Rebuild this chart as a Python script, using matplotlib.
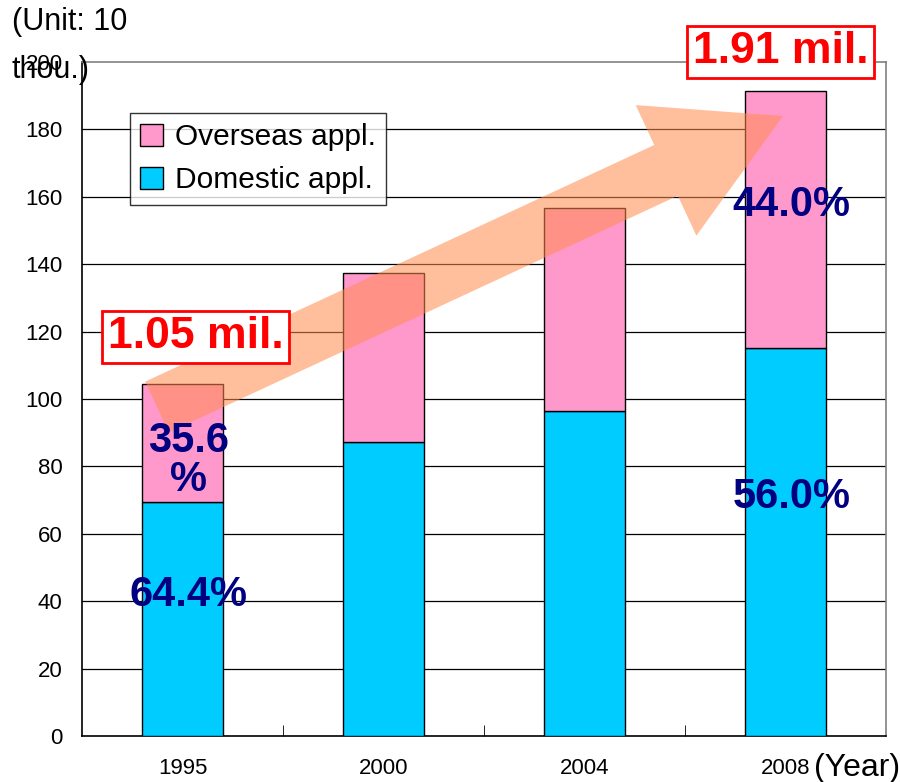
import matplotlib
matplotlib.use("Agg")
import matplotlib.pyplot as plt
import numpy as np
from matplotlib.patches import Polygon

plt.rcParams['font.family'] = ['Liberation Sans', 'DejaVu Sans']

years = ['1995', '2000', '2004', '2008']
domestic = [69.5, 87.2, 96.4, 115.1]
overseas = [35.0, 50.2, 60.3, 76.3]
dom_pct = ['64.4%', None, None, '56.0%']
ovs_pct = ['35.6\n%', None, None, '44.0%']
totals_lbl = {0: '1.05 mil.', 3: '1.91 mil.'}
yticks = list(range(0, 201, 20))

W, H = 900, 782
fig = plt.figure(figsize=(W / 100, H / 100), dpi=100)
ax = fig.add_axes([82 / W, 1 - 736 / H, (886 - 82) / W, (736 - 62) / H])

x = np.arange(len(years))
ax.bar(x, domestic, width=0.4, color='#00CCFF', edgecolor='black', linewidth=1, zorder=3, label='Domestic appl.')
ax.bar(x, overseas, width=0.4, bottom=domestic, color='#FF99CC', edgecolor='black', linewidth=1, zorder=3, label='Overseas appl.')

ax.set_yticks(yticks)
ax.set_yticklabels([str(v) for v in yticks], fontsize=16)
ax.tick_params(axis='y', length=0, pad=14)
ax.set_xticks(x)
ax.set_xticklabels(years, fontsize=16)
ax.tick_params(axis='x', length=0, pad=16)
ax.set_xticks(np.arange(len(years) - 1) + 0.5, minor=True)
ax.tick_params(axis='x', which='minor', direction='in', length=8, color='black')

for v in yticks[1:-1]:
    ax.axhline(v, color='black', linewidth=0.9, zorder=1)
ax.spines['top'].set_color('#808080')
ax.spines['right'].set_color('#808080')
ax.spines['left'].set_color('black')
ax.spines['bottom'].set_color('black')
for s in ax.spines.values():
    s.set_linewidth(1.2)

# arrow (decoration) built in pixel space -> figure fraction
T = np.array([157.0, 407.0])
P = np.array([783.0, 116.0])
d = P - T
u = d / np.hypot(*d)
n = np.array([-u[1], u[0]])
hw_s, hw_h, hl = 28, 72, 129
B = P - hl * u
pts = [T + hw_s * n, B + hw_s * n, B + hw_h * n, P, B - hw_h * n, B - hw_s * n, T - hw_s * n]
pts_fig = [(p[0] / W, 1 - p[1] / H) for p in pts]
arrow = Polygon(pts_fig, closed=True, transform=fig.transFigure,
                facecolor='#FF8C4D', edgecolor='none', alpha=0.55, zorder=5, clip_on=False)
ax.add_patch(arrow)

ax.set_xlim(-0.5, len(years) - 0.5)
ax.set_ylim(0, 200)

navy = '#000080'
dom_y = {0: 41.8, 3: 70.9}
ovs_y = {0: 81.8, 3: 157.6}
for i in range(len(years)):
    if dom_pct[i]:
        ax.text(x[i] + 0.03, dom_y[i], dom_pct[i], ha='center', va='center',
                fontsize=30, fontweight='bold', color=navy, zorder=7)
    if ovs_pct[i]:
        ax.text(x[i] + 0.03, ovs_y[i], ovs_pct[i], ha='center', va='center', fontsize=30,
                fontweight='bold', color=navy, zorder=7, linespacing=0.95)

tot_pos = {0: (0.065, 118.4), 3: (-0.025, 203.0)}
for i, lbl in totals_lbl.items():
    dx, yy = tot_pos[i]
    ax.text(x[i] + dx, yy, lbl, ha='center', va='center',
            fontsize=32, fontweight='bold', color='#FF0000', zorder=8, clip_on=False,
            bbox=dict(boxstyle='square,pad=0.12', facecolor='white', edgecolor='#FF0000', linewidth=2))

h, l = ax.get_legend_handles_labels()
leg = ax.legend(h[::-1], l[::-1], loc='upper left', bbox_to_anchor=(48 / 804, 1 - 51 / 674),
                fontsize=21.5, frameon=True, fancybox=False, edgecolor='black',
                handlelength=0.75, handleheight=0.75, handletextpad=0.4, borderpad=0.35,
                labelspacing=0.5, borderaxespad=0)
leg.get_frame().set_linewidth(1)
leg.set_zorder(9)

fig.text(12 / W, 1 - 22 / H, '(Unit: 10', fontsize=22, ha='left', va='center')
fig.text(12 / W, 1 - 70 / H, 'thou.)', fontsize=22, ha='left', va='center')
fig.text(900 / W, 1 - 768 / H, '(Year)', fontsize=23, ha='right', va='center')

fig.savefig('out.png', dpi=100)
